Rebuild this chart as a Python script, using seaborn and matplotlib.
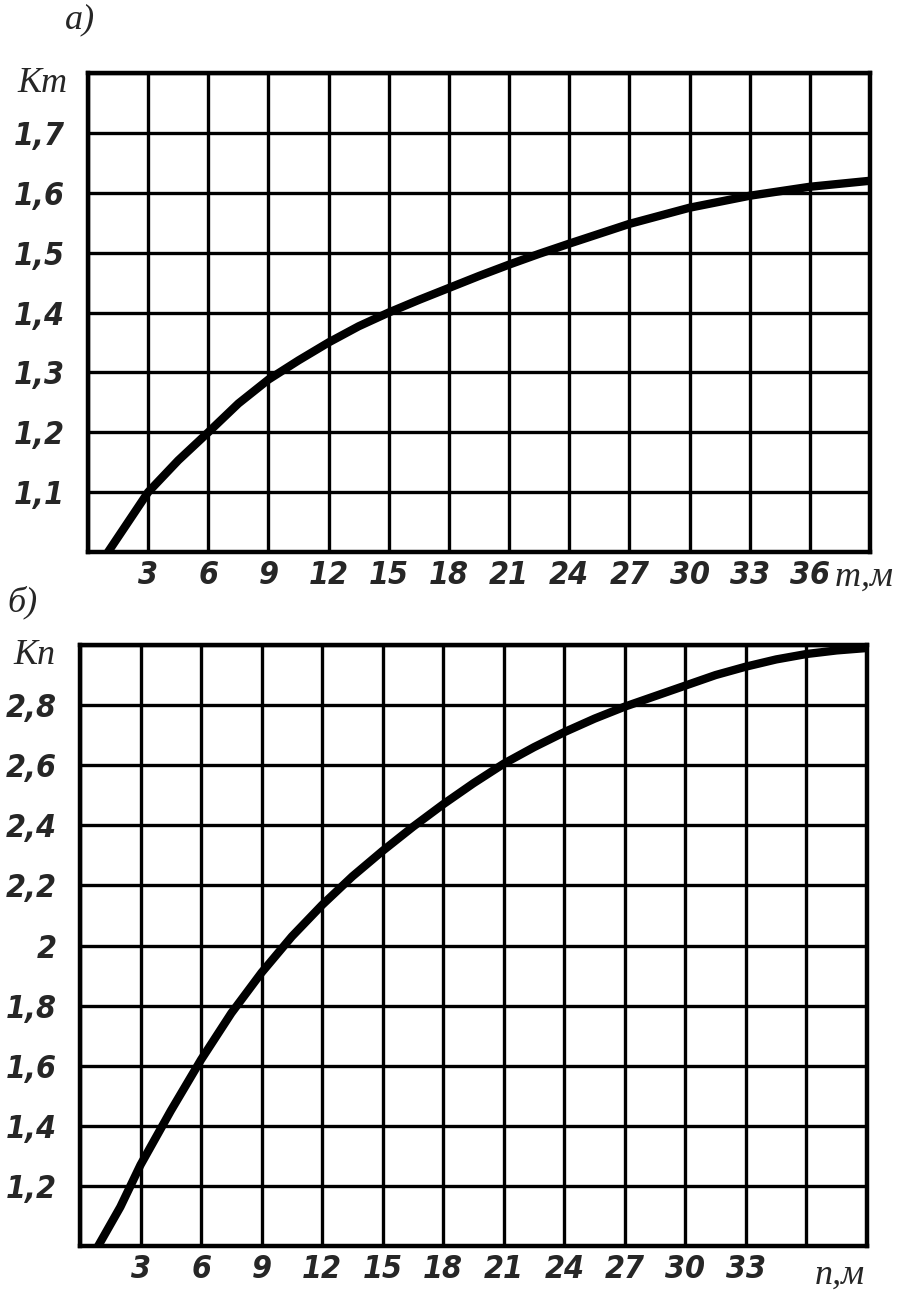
import matplotlib
matplotlib.use("Agg")
import matplotlib.pyplot as plt
import seaborn as sns
import pandas as pd

# panel а): K_т against т, м
m_vals = [1.0, 2.0, 3, 4.5, 6, 7.5, 9, 10.5, 12, 13.5, 15, 16.5, 18, 19.5, 21, 22.5, 24, 27, 30, 33, 36, 39]
k_m = [1.0, 1.05, 1.10, 1.153, 1.20, 1.248, 1.288, 1.32, 1.35, 1.377, 1.40, 1.421, 1.441, 1.461, 1.48, 1.498,
       1.515, 1.548, 1.575, 1.595, 1.61, 1.62]
m_ticks = list(range(0, 40, 3))
m_labels = [""] + [str(v) for v in range(3, 37, 3)] + [""]
km_ticks = [1.0, 1.1, 1.2, 1.3, 1.4, 1.5, 1.6, 1.7, 1.8]
km_labels = ["", "1,1", "1,2", "1,3", "1,4", "1,5", "1,6", "1,7", ""]

# panel б): K_п against п, м
n_vals = [0.9, 2.0, 3, 4.5, 6, 7.5, 9, 10.5, 12, 13.5, 15, 16.5, 18, 19.5, 21, 22.5, 24, 25.5, 27, 28.5,
          30, 31.5, 33, 34.5, 36, 37.5, 39]
k_n = [1.0, 1.13, 1.27, 1.45, 1.62, 1.775, 1.91, 2.03, 2.135, 2.23, 2.315, 2.395, 2.47, 2.54, 2.605, 2.66,
       2.71, 2.755, 2.795, 2.83, 2.865, 2.90, 2.928, 2.952, 2.97, 2.982, 2.99]
n_ticks = list(range(0, 40, 3))
n_labels = [""] + [str(v) for v in range(3, 34, 3)] + ["", ""]
kn_ticks = [1.0, 1.2, 1.4, 1.6, 1.8, 2.0, 2.2, 2.4, 2.6, 2.8, 3.0]
kn_labels = ["", "1,2", "1,4", "1,6", "1,8", "2", "2,2", "2,4", "2,6", "2,8", ""]

sns.set_style("white")
plt.rcParams["font.family"] = ["DejaVu Sans", "Liberation Sans"]

NUM = dict(fontsize=23, fontstyle="italic", fontweight="bold", fontstretch="condensed")
LET = dict(fontsize=26, fontstyle="italic", family=["Liberation Serif", "DejaVu Serif"])

fig = plt.figure(figsize=(8.97, 13.11), dpi=100)
W, H = 897, 1311


def make_axes(left, top, right, bottom):
    return fig.add_axes([left / W, 1 - bottom / H, (right - left) / W, (bottom - top) / H])


def style(ax, xt, xl, yt, yl):
    ax.set_xlim(0, 39)
    ax.set_ylim(yt[0], yt[-1])
    ax.set_xticks(xt)
    ax.set_xticklabels(xl, **NUM)
    ax.set_yticks(yt)
    ax.set_yticklabels(yl, **NUM)
    ax.tick_params(length=0, pad=6)
    ax.tick_params(axis="y", pad=17)
    ax.grid(True, color="black", linewidth=2.4)
    for s in ax.spines.values():
        s.set_color("black")
        s.set_linewidth(3.2)
    ax.set_xlabel("")
    ax.set_ylabel("")


ax1 = make_axes(88, 73, 870, 552)
sns.lineplot(data=pd.DataFrame({"m": m_vals, "k": k_m}), x="m", y="k",
             ax=ax1, color="black", linewidth=6, zorder=5)
style(ax1, m_ticks, m_labels, km_ticks, km_labels)

ax2 = make_axes(80, 645, 867, 1246)
sns.lineplot(data=pd.DataFrame({"n": n_vals, "k": k_n}), x="n", y="k",
             ax=ax2, color="black", linewidth=6, zorder=5)
style(ax2, n_ticks, n_labels, kn_ticks, kn_labels)

# axis captions and panel letters
fig.text(42 / W, 1 - 84 / H, "Кт", ha="center", va="center", **LET)
fig.text(894 / W, 1 - 577 / H, "т,м", ha="right", va="center", **LET)
fig.text(34 / W, 1 - 655 / H, "Кп", ha="center", va="center", **LET)
fig.text(840 / W, 1 - 1275 / H, "п,м", ha="center", va="center", **LET)
fig.text(80 / W, 1 - 20 / H, "а)", ha="center", va="center", **LET)
fig.text(22 / W, 1 - 602 / H, "б)", ha="center", va="center", **LET)

fig.savefig("out.png", dpi=100, facecolor="white")
